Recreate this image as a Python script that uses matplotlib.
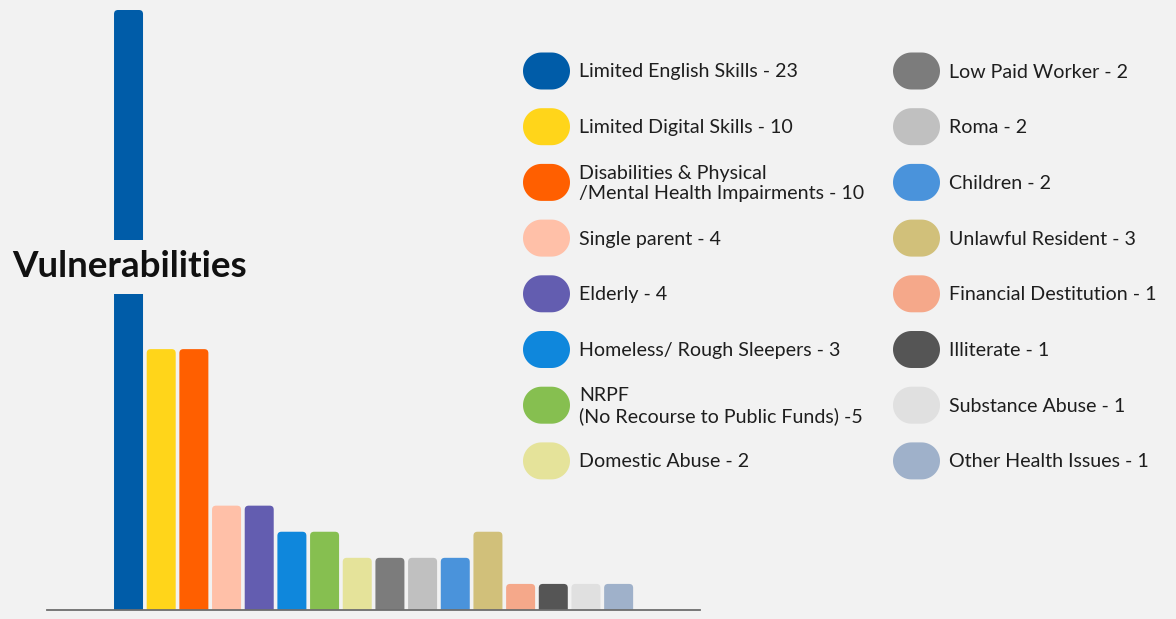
import numpy as np
import matplotlib.pyplot as plt
from matplotlib.patches import FancyBboxPatch, Polygon

# Data
labels = ['Limited English Skills - 23', 'Limited Digital Skills - 10',
          'Disabilities & Physical\n/Mental Health Impairments - 10',
          'Single parent - 4', 'Elderly - 4', 'Homeless/ Rough Sleepers - 3',
          'NRPF\n(No Recourse to Public Funds) -5', 'Domestic Abuse - 2',
          'Low Paid Worker - 2', 'Roma - 2', 'Children - 2',
          'Unlawful Resident - 3', 'Financial Destitution - 1', 'Illiterate - 1',
          'Substance Abuse - 1', 'Other Health Issues - 1']
values = [23, 10, 10, 4, 4, 3, 3, 2, 2, 2, 2, 3, 1, 1, 1, 1]
colors = ['#005ca8', '#ffd51a', '#ff5f00', '#ffc0a8', '#635db0', '#0f87dc',
          '#86bf50', '#e5e39a', '#7c7c7c', '#c0c0c0', '#4a93db', '#d1c07a',
          '#f5a88a', '#555555', '#e0e0e0', '#9fb1ca']

bg = '#f2f2f2'
W, H = 1176, 619
plt.rcParams['font.family'] = ['Lato', 'DejaVu Sans']

fig = plt.figure(figsize=(W / 100, H / 100), dpi=100, facecolor=bg)

# bar chart axes (pixel box: x 47..700, y 10..610)
ax = fig.add_axes([47 / W, (H - 610) / H, (700 - 47) / W, 600 / H])
ax.set_facecolor(bg)
ax.set_xlim(-2.495, 17.49)
ax.set_ylim(0, 23)
px_x = 653 / (17.49 + 2.495)   # pixels per x unit
px_y = 600 / 23                # pixels per y unit
bw = 29 / px_x
r = 4 / px_x
for i, (v, c) in enumerate(zip(values, colors)):
    p = FancyBboxPatch((i - bw / 2, -0.5), bw, v + 0.5,
                       boxstyle=f'round,pad=0,rounding_size={r}',
                       mutation_aspect=px_x / px_y, fc=c, ec='none', zorder=2)
    ax.add_patch(p)
for s in ['top', 'right', 'left']:
    ax.spines[s].set_visible(False)
ax.spines['bottom'].set_color('#6e6e6e')
ax.spines['bottom'].set_linewidth(1.3)
ax.spines['bottom'].set_zorder(3)
ax.set_xticks([])
ax.set_yticks([])

# title over the bars with a background box
fig.text(12 / W, 1 - 267 / H, 'Vulnerabilities', fontsize=26.5, fontweight='bold',
         color='#111111', ha='left', va='center', zorder=10,
         bbox=dict(boxstyle='square,pad=0.28', fc=bg, ec='none'))

# legend drawn in pixel space
lax = fig.add_axes([0, 0, 1, 1])
lax.set_xlim(0, W)
lax.set_ylim(H, 0)
lax.axis('off')
lax.patch.set_alpha(0)
pw, ph = 47, 37
rad = ph / 2
t = np.linspace(-np.pi / 2, np.pi / 2, 40)


def pill(x0, yc):
    # stadium outline: right half-circle then left half-circle
    right = np.column_stack([x0 + pw - rad + rad * np.cos(t), yc + rad * np.sin(t)])
    left = np.column_stack([x0 + rad - rad * np.cos(t), yc - rad * np.sin(t)])
    return np.vstack([right, left])


for k, (lab, c) in enumerate(zip(labels, colors)):
    col, row = divmod(k, 8)
    x0 = 523 + col * 370
    yc = 71 + row * 55.7
    lax.add_patch(Polygon(pill(x0, yc), closed=True, fc=c, ec='none'))
    lax.text(x0 + 56, yc + 1, lab, fontsize=14.1, color='#1e1e1e',
             ha='left', va='center', linespacing=1.22)

fig.savefig('out.png', dpi=100, facecolor=bg)
